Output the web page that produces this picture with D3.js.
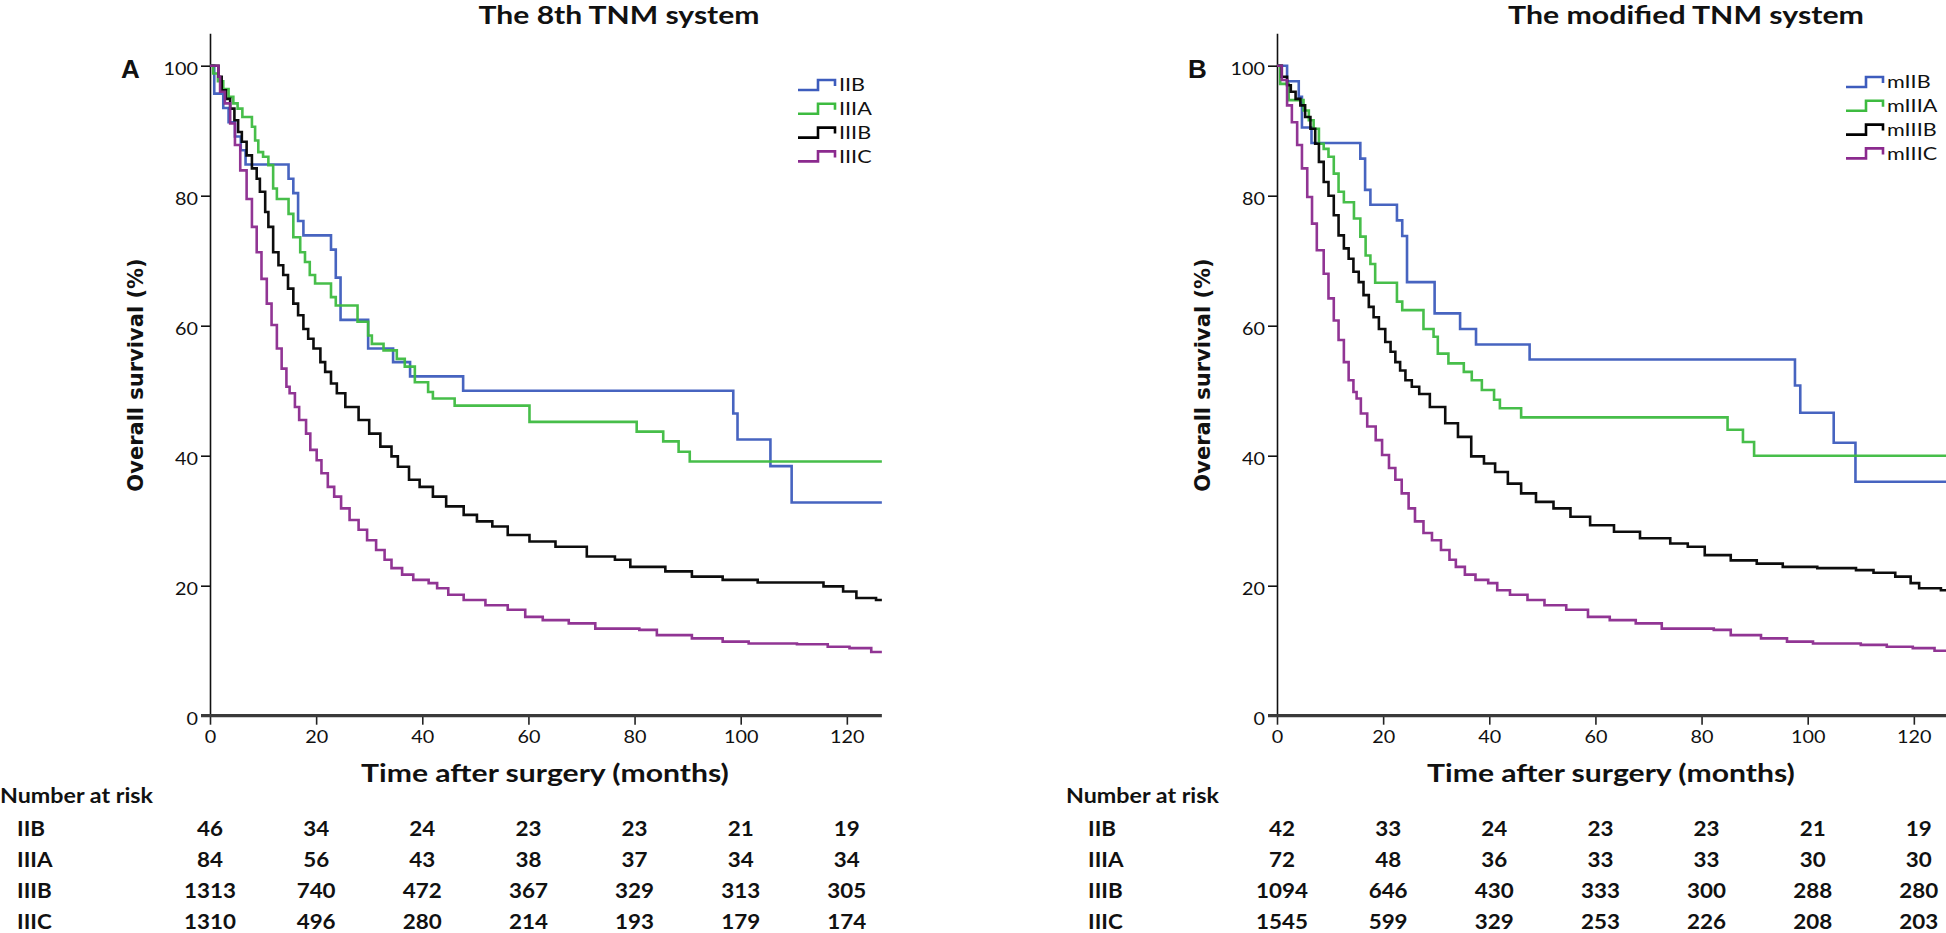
<!DOCTYPE html>
<html>
<head>
<meta charset="utf-8">
<script src="https://cdn.jsdelivr.net/npm/d3@7/dist/d3.min.js"></script>
<style>
  html, body { margin: 0; padding: 0; background: #fff; }
  svg { display: block; }
  text { font-family: Lato, "Open Sans", sans-serif; fill: #111; }
</style>
</head>
<body>
<svg id="chart" width="1946" height="933"></svg>
<script>
// ---------------- DATA ----------------
const groupsA = ["IIB", "IIIA", "IIIB", "IIIC"];
const groupsB = ["mIIB", "mIIIA", "mIIIB", "mIIIC"];
const riskRowLabels = ["IIB", "IIIA", "IIIB", "IIIC"];
const xTicks = [0, 20, 40, 60, 80, 100, 120];
const yTicks = [0, 20, 40, 60, 80, 100];
const xMax = 126.6;
const colors = ["#3d5cbd", "#3dbb40", "#000000", "#8b2a8e"];

// Panel A – 8th TNM: step times (months) and survival (%) after each drop
const A_IIB_t = [0, 0.8, 2.5, 3.5, 4.7, 5.8, 6.7, 14.8, 15.7, 16.6, 17.6, 22.8, 23.7, 24.6, 29.8, 34.5, 37.7, 47.7, 98.6, 99.4, 105.6, 109.6];
const A_IIB_s = [100, 95.7, 93.5, 91.3, 89.1, 87.0, 84.8, 82.6, 80.4, 76.1, 73.9, 71.7, 67.4, 60.9, 56.5, 54.4, 52.2, 50.0, 46.5, 42.5, 38.4, 32.8];

const A_IIIA_t = [0, 0.6, 1.5, 2.5, 3.5, 4.4, 5.2, 6.1, 7.9, 8.5, 9.1, 10.0, 11.0, 11.9, 12.6, 14.8, 15.7, 17.0, 17.9, 18.8, 19.8, 22.8, 23.7, 27.8, 29.8, 30.5, 32.7, 35.2, 36.7, 38.6, 41.1, 42.0, 46.1, 60.2, 80.4, 85.4, 88.3, 90.4];
const A_IIIA_s = [100, 98.8, 97.6, 96.4, 95.2, 94.2, 93.4, 92.1, 90.6, 88.5, 86.7, 86.0, 84.7, 81.1, 79.5, 77.2, 73.6, 71.3, 69.8, 67.8, 66.5, 64.4, 63.1, 60.6, 58.5, 57.2, 56.2, 54.9, 53.7, 51.3, 49.8, 48.8, 47.7, 45.2, 43.7, 42.2, 40.6, 39.1];

const A_IIIB_t = [0, 1.6, 2.2, 3.0, 3.8, 4.6, 5.3, 6.0, 6.9, 7.9, 8.8, 9.4, 10.4, 11.0, 11.9, 12.9, 13.8, 14.7, 15.7, 16.6, 17.6, 18.5, 19.5, 20.8, 21.7, 22.8, 23.9, 25.5, 28.0, 30.0, 32.1, 34.2, 35.4, 37.5, 39.5, 42.0, 44.5, 47.8, 50.3, 53.2, 56.1, 60.2, 65.1, 71.0, 76.3, 79.2, 85.8, 90.8, 96.6, 103.2, 115.6, 119.3, 121.8, 125.5];
const A_IIIB_s = [100, 98.3, 96.2, 94.9, 93.4, 91.6, 89.8, 88.3, 86.2, 84.2, 82.6, 80.6, 77.5, 75.2, 71.3, 69.3, 67.8, 65.7, 63.4, 61.6, 59.5, 58.0, 56.5, 54.4, 52.9, 51.1, 49.6, 47.5, 45.5, 43.4, 41.4, 39.9, 38.3, 36.3, 35.2, 33.7, 32.2, 30.9, 29.9, 29.1, 27.8, 26.8, 26.0, 24.5, 24.0, 22.9, 22.2, 21.4, 20.9, 20.5, 19.9, 19.1, 18.1, 17.8];

const A_IIIC_t = [0, 1.6, 1.9, 2.8, 3.8, 4.7, 5.7, 6.9, 7.9, 8.8, 9.7, 10.7, 11.6, 12.6, 13.5, 14.4, 15.0, 16.0, 16.8, 18.1, 18.9, 20.1, 21.0, 22.2, 23.4, 24.7, 26.3, 28.0, 29.6, 31.3, 32.9, 34.2, 36.2, 38.3, 41.2, 42.8, 44.9, 47.8, 51.9, 56.1, 59.4, 62.7, 67.6, 72.6, 80.9, 84.2, 90.8, 96.6, 101.5, 110.6, 116.4, 120.5, 124.6];
const A_IIIC_s = [100, 98.3, 96.0, 94.2, 91.1, 87.8, 83.9, 79.5, 75.2, 71.3, 67.2, 63.4, 60.1, 56.5, 53.4, 50.6, 49.6, 47.5, 45.5, 43.4, 40.9, 39.3, 37.3, 35.2, 33.7, 31.9, 30.1, 28.6, 27.0, 25.5, 24.0, 22.7, 21.7, 20.9, 20.4, 19.6, 18.6, 17.8, 17.0, 16.3, 15.2, 14.7, 14.2, 13.4, 13.2, 12.4, 11.9, 11.4, 11.1, 11.0, 10.6, 10.4, 9.8];

// Panel B – modified TNM
const B_IIB_t = [0, 1.9, 4.1, 4.7, 6.5, 15.7, 16.6, 17.6, 22.6, 23.6, 24.5, 29.7, 34.5, 37.5, 47.6, 97.6, 98.6, 104.9, 109.0];
const B_IIB_s = [100, 97.6, 95.2, 90.5, 88.1, 85.7, 80.9, 78.6, 76.2, 73.8, 66.7, 61.9, 59.5, 57.1, 54.8, 50.8, 46.6, 42.0, 36.0];

const B_IIIA_t = [0, 0.6, 2.2, 5.0, 6.0, 6.9, 7.9, 8.8, 9.7, 10.7, 11.6, 12.6, 14.5, 15.7, 16.7, 17.6, 18.5, 22.6, 23.6, 27.6, 29.5, 30.3, 32.3, 35.2, 36.7, 38.6, 40.9, 42.0, 46.0, 84.9, 87.8, 89.9];
const B_IIIA_s = [100, 97.2, 94.7, 93.1, 91.6, 90.3, 88.0, 87.2, 86.0, 83.4, 80.6, 79.0, 76.5, 73.7, 70.8, 69.5, 66.6, 63.7, 62.4, 59.5, 58.3, 55.7, 54.2, 52.9, 51.6, 50.1, 48.6, 47.3, 45.9, 44.0, 42.1, 40.0];

const B_IIIB_t = [0, 0.9, 1.9, 2.6, 3.5, 4.4, 5.3, 6.3, 7.2, 7.9, 8.8, 9.7, 10.7, 11.6, 12.6, 13.5, 14.4, 15.4, 16.3, 17.3, 18.2, 19.2, 20.4, 21.4, 22.3, 23.2, 24.2, 25.4, 26.8, 28.8, 31.7, 34.1, 36.6, 39.0, 41.1, 43.5, 46.0, 48.8, 52.1, 55.3, 59.0, 63.5, 68.4, 74.1, 77.4, 80.6, 85.5, 90.4, 95.3, 101.8, 109.1, 112.4, 116.5, 119.4, 121.0, 125.1];
const B_IIIB_s = [100, 98.3, 97.0, 96.0, 94.9, 93.9, 92.1, 90.3, 88.0, 85.2, 82.1, 80.0, 77.0, 73.9, 71.9, 70.3, 68.3, 66.7, 64.7, 62.9, 61.3, 59.5, 57.5, 56.0, 54.4, 53.1, 51.6, 50.6, 49.5, 47.5, 45.0, 42.9, 39.9, 38.8, 37.5, 35.7, 34.2, 32.9, 31.9, 30.6, 29.3, 28.3, 27.3, 26.5, 26.0, 24.7, 23.9, 23.4, 22.9, 22.7, 22.4, 22.0, 21.4, 20.4, 19.6, 19.3];

const B_IIIC_t = [0, 0.9, 1.9, 2.8, 3.8, 4.7, 5.7, 6.6, 7.5, 8.8, 9.7, 10.7, 11.6, 12.6, 13.5, 14.4, 15.0, 15.8, 17.0, 18.6, 19.8, 21.1, 22.3, 23.5, 24.8, 26.0, 27.6, 29.2, 30.9, 32.5, 33.7, 35.4, 37.4, 39.8, 41.5, 43.9, 47.2, 50.4, 54.5, 58.6, 62.7, 67.6, 72.5, 82.3, 85.5, 91.2, 96.1, 101.0, 110.0, 114.9, 119.8, 123.9];
const B_IIIC_s = [100, 97.8, 93.9, 91.3, 87.8, 84.2, 79.8, 75.7, 71.6, 68.0, 64.2, 60.8, 57.8, 54.4, 51.6, 49.8, 48.8, 46.5, 44.5, 42.4, 40.1, 38.1, 36.3, 34.2, 31.9, 29.9, 28.1, 27.0, 25.5, 24.0, 22.9, 21.7, 20.9, 20.4, 19.3, 18.6, 17.8, 17.0, 16.3, 15.2, 14.7, 14.2, 13.4, 13.2, 12.4, 11.9, 11.4, 11.1, 10.9, 10.6, 10.4, 10.0];

// Number at risk
const riskA_IIB = [46, 34, 24, 23, 23, 21, 19];
const riskA_IIIA = [84, 56, 43, 38, 37, 34, 34];
const riskA_IIIB = [1313, 740, 472, 367, 329, 313, 305];
const riskA_IIIC = [1310, 496, 280, 214, 193, 179, 174];
const riskB_IIB = [42, 33, 24, 23, 23, 21, 19];
const riskB_IIIA = [72, 48, 36, 33, 33, 30, 30];
const riskB_IIIB = [1094, 646, 430, 333, 300, 288, 280];
const riskB_IIIC = [1545, 599, 329, 253, 226, 208, 203];

// ---------------- DRAW ----------------
const svg = d3.select("#chart");

// horizontal stretch of a text about its anchor point (the reference text is drawn wide)
function stretch(sel, sx) {
  sel.each(function () {
    const t = d3.select(this);
    const x = +t.attr("x") || 0, y = +t.attr("y") || 0;
    const prev = t.attr("transform") || "";
    t.attr("transform", `${prev} translate(${x},${y}) scale(${sx},1) translate(${-x},${-y})`);
  });
}
function fitWidth(sel, w) {
  const n = sel.node().getComputedTextLength();
  if (n > 0) stretch(sel, w / n);
}

function drawPanel(cfg) {
  const x = d3.scaleLinear().domain([0, xMax]).range([cfg.x0, cfg.x0 + xMax * 5.307]);
  const y = d3.scaleLinear().domain([0, 105]).range([715.7, 715.7 - 105 * 6.5]);
  const g = svg.append("g");

  // title
  const title = g.append("text").attr("x", cfg.titleX).attr("y", 24.5)
    .attr("text-anchor", "middle").style("font-weight", 700).style("font-size", "24.5px")
    .text(cfg.title);
  fitWidth(title, cfg.titleW);
  // panel letter
  g.append("text").attr("x", cfg.x0 - 89).attr("y", 78)
    .style("font-weight", 700).style("font-size", "26px").style("font-family", "'Liberation Sans', Arial, sans-serif")
    .text(cfg.letter);

  // y axis
  const yAxis = d3.axisLeft(y).tickValues(yTicks).tickSize(9).tickSizeOuter(0).tickPadding(3);
  const ya = g.append("g").attr("transform", `translate(${cfg.x0},0)`).call(yAxis);
  ya.select(".domain").attr("stroke", "#111").attr("stroke-width", 1.6);
  ya.selectAll(".tick line").attr("stroke", "#111").attr("stroke-width", 1.6);
  ya.selectAll(".tick text").style("font-size", "18px").style("font-family", "Lato, sans-serif")
    .attr("fill", "#111").attr("dy", "0.5em").call(stretch, 1.1);

  // x axis
  const xAxis = d3.axisBottom(x).tickValues(xTicks).tickSize(9).tickSizeOuter(0).tickPadding(6);
  const xa = g.append("g").attr("transform", `translate(0,${y(0)})`).call(xAxis);
  xa.select(".domain").remove();
  xa.selectAll(".tick line").attr("stroke", "#222").attr("stroke-width", 1.6);
  xa.selectAll(".tick text").style("font-size", "18px").style("font-family", "Lato, sans-serif")
    .attr("fill", "#111").call(stretch, 1.1);
  g.append("line").attr("x1", cfg.x0 - 9).attr("x2", x(xMax)).attr("y1", y(0)).attr("y2", y(0))
    .attr("stroke", "#3a3a3a").attr("stroke-width", 3.2);

  // axis titles
  const xt = g.append("text").attr("x", cfg.xTitleX).attr("y", 782)
    .attr("text-anchor", "middle").style("font-weight", 700).style("font-size", "24px")
    .text("Time after surgery (months)");
  fitWidth(xt, 368);
  g.append("text").attr("transform", `translate(${cfg.x0 - 67},375) rotate(-90)`)
    .attr("text-anchor", "middle").style("font-weight", 700).style("font-size", "21px")
    .style("font-family", "'DejaVu Sans', Verdana, sans-serif")
    .text("Overall survival (%)");

  // curves
  const line = d3.line().x(d => x(d[0])).y(d => y(d[1])).curve(d3.curveStepAfter);
  cfg.series.forEach((s, i) => {
    const pts = s.t.map((t, k) => [t, s.s[k]]);
    pts.push([xMax, s.s[s.s.length - 1]]);
    g.append("path").datum(pts).attr("d", line)
      .attr("fill", "none").attr("stroke", colors[i]).attr("stroke-width", 2.6)
      .attr("stroke-linejoin", "miter").attr("stroke-opacity", 0.95);
  });

  // legend
  cfg.groups.forEach((name, i) => {
    const yc = cfg.legY + i * 23.8;
    const lx = cfg.legX;
    g.append("path")
      .attr("d", `M${lx},${yc + 5}H${lx + 20}V${yc - 5}H${lx + 37}V${yc + 1}`)
      .attr("fill", "none").attr("stroke", colors[i]).attr("stroke-width", 2.6);
    g.append("text").attr("x", lx + 41).attr("y", yc + 6.5)
      .style("font-size", "18px").text(name).call(stretch, 1.2);
  });

  // number at risk
  const nr = g.append("text").attr("x", cfg.riskTitleX).attr("y", 803.5)
    .style("font-size", "20px").style("font-weight", 700).text("Number at risk");
  fitWidth(nr, 153);
  cfg.risk.forEach((row, r) => {
    const by = 835.7 + r * 31;
    g.append("text").attr("x", cfg.riskLabelX).attr("y", by)
      .style("font-size", "20px").style("font-weight", 700).text(riskRowLabels[r]).call(stretch, 1.12);
    g.selectAll(null).data(row).enter().append("text")
      .attr("x", (d, k) => x(xTicks[k]) + cfg.riskDx).attr("y", by)
      .attr("text-anchor", "middle").style("font-size", "20px").style("font-weight", 700)
      .text(d => d).call(stretch, 1.12);
  });
}

drawPanel({
  x0: 210, title: "The 8th TNM system", titleX: 619, titleW: 281, letter: "A", xTitleX: 545,
  groups: groupsA, legX: 798, legY: 85,
  riskTitleX: 0, riskLabelX: 17, riskDx: 0,
  series: [
    { t: A_IIB_t, s: A_IIB_s }, { t: A_IIIA_t, s: A_IIIA_s },
    { t: A_IIIB_t, s: A_IIIB_s }, { t: A_IIIC_t, s: A_IIIC_s }
  ],
  risk: [riskA_IIB, riskA_IIIA, riskA_IIIB, riskA_IIIC]
});

drawPanel({
  x0: 1277, title: "The modified TNM system", titleX: 1686, titleW: 356, letter: "B", xTitleX: 1611,
  groups: groupsB, legX: 1846, legY: 82,
  riskTitleX: 1066, riskLabelX: 1088, riskDx: 5,
  series: [
    { t: B_IIB_t, s: B_IIB_s }, { t: B_IIIA_t, s: B_IIIA_s },
    { t: B_IIIB_t, s: B_IIIB_s }, { t: B_IIIC_t, s: B_IIIC_s }
  ],
  risk: [riskB_IIB, riskB_IIIA, riskB_IIIB, riskB_IIIC]
});
</script>
</body>
</html>
